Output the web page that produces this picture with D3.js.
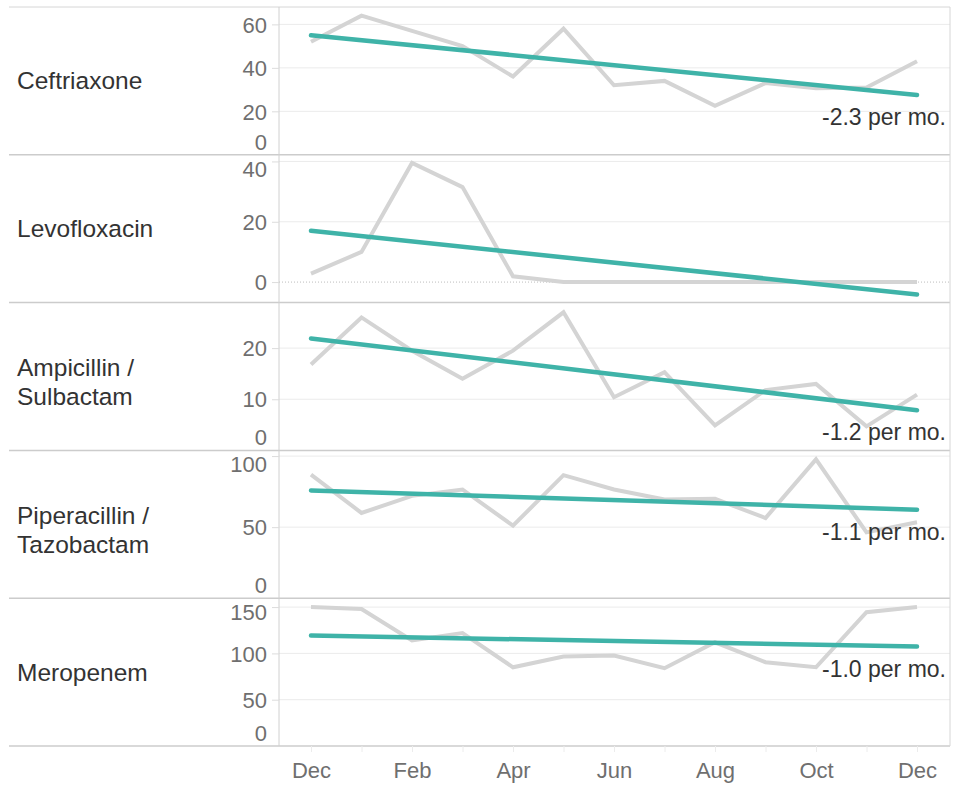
<!DOCTYPE html>
<html lang="en">
<head>
  <meta charset="UTF-8" />
  <title>Antibiotic use trends</title>
  <style>
    body {
      margin: 0;
      background: #ffffff;
      font-family: Helvetica, Arial, "Liberation Sans", sans-serif;
    }
    .rowlabel { fill: #333; font-size: 24.5px; }
    .tick text { fill: #6f6f6f; font-size: 22px; font-family: Helvetica, Arial, "Liberation Sans", sans-serif; }
    .slope { fill: #333; font-size: 23px; }
  </style>
  <script src="https://d3js.org/d3.v7.min.js"></script>
</head>
<body>
  <svg id="chart" width="954" height="785"></svg>

  <script>
    // months on the x axis (Dec to Dec)
    const months = ["Dec", "Jan", "Feb", "Mar", "Apr", "May", "Jun", "Jul", "Aug", "Sep", "Oct", "Nov", "Dec"];
    const drugs = ["Ceftriaxone", "Levofloxacin", "Ampicillin / Sulbactam", "Piperacillin / Tazobactam", "Meropenem"];

    const ceftriaxone  = [52, 64, 57, 50, 36, 58, 32, 34, 22.5, 33, 30.6, 31, 43];
    const levofloxacin = [2.8, 10, 39.5, 31.5, 1.9, 0, 0, 0, 0, 0, 0, 0, 0];
    const ampicillin   = [16.8, 26, 19.5, 14, 19.5, 27, 10.4, 15.3, 4.9, 11.8, 13, 4.7, 10.9];
    const piperacillin = [87, 60, 72, 76.5, 51, 86.6, 76.5, 69.4, 69.9, 56.4, 97.7, 46.3, 53.4];
    const meropenem    = [150, 148, 114, 122, 85, 96.6, 97.7, 84, 112, 90.5, 85, 144.5, 150];
    const series = [ceftriaxone, levofloxacin, ampicillin, piperacillin, meropenem];

    // trend line values at first and last month
    const trendStart = [55, 17, 21.9, 75.8, 119.3];
    const trendEnd   = [27.5, -4.1, 7.85, 62.3, 107.4];
    const slopeLabels = ["-2.3 per mo.", null, "-1.2 per mo.", "-1.1 per mo.", "-1.0 per mo."];

    const yDomains = [[0, 68], [-6.8, 42.2], [0, 28.9], [0, 104], [0, 159.6]];
    const yTicks = [[0, 20, 40, 60], [0, 20, 40], [0, 10, 20], [0, 50, 100], [0, 50, 100, 150]];

    const svg = d3.select("#chart");
    const frameLeft = 9, axisX = 279, frameRight = 950;
    const frameTop = 7, frameBottom = 746;
    const rowH = (frameBottom - frameTop) / drugs.length;

    const x = d3.scaleLinear().domain([0, 12]).range([311, 917]);

    const gridG = svg.append("g");
    const frameG = svg.append("g");
    const markG = svg.append("g");

    drugs.forEach((name, r) => {
      const y0 = frameTop + r * rowH;
      const y1 = y0 + rowH;
      const y = d3.scaleLinear().domain(yDomains[r]).range([y1, y0]);

      // gridlines
      yTicks[r].forEach(v => {
        const yy = y(v);
        if (yy > y1 - 2 || yy < y0 + 2) return;
        gridG.append("line")
          .attr("x1", axisX).attr("x2", frameRight)
          .attr("y1", yy).attr("y2", yy)
          .attr("stroke", v === 0 ? "#bdbdbd" : "#ebebeb")
          .attr("stroke-width", 1)
          .attr("stroke-dasharray", v === 0 ? "1,2" : null);
      });

      // y axis
      const ax = svg.append("g")
        .attr("transform", `translate(${axisX},0)`)
        .call(d3.axisLeft(y).tickValues(yTicks[r]).tickSize(7).tickPadding(5));
      ax.select(".domain").remove();
      ax.selectAll(".tick line")
        .attr("stroke", "#dcdcdc")
        .attr("display", d => (y(d) > y1 - 2 || y(d) < y0 + 2) ? "none" : null);
      ax.selectAll(".tick text")
        .attr("dy", "0.35em")
        .attr("y", d => {
          const yy = y(d);
          const c = Math.max(y0 + 13.5, Math.min(y1 - 13.5, yy));
          return c - yy;
        });

      // row label
      const lines = name.includes(" / ") ? [name.split(" / ")[0] + " /", name.split(" / ")[1]] : [name];
      const mid = (y0 + y1) / 2;
      const lbl = svg.append("text").attr("class", "rowlabel").attr("x", 17);
      if (lines.length === 1) {
        lbl.append("tspan").attr("x", 17).attr("y", mid).attr("dy", "0.35em").text(lines[0]);
      } else {
        lbl.append("tspan").attr("x", 17).attr("y", mid - 9).attr("dy", "0.35em").text(lines[0]);
        lbl.append("tspan").attr("x", 17).attr("y", mid + 20).attr("dy", "0.35em").text(lines[1]);
      }

      // data line
      markG.append("path")
        .datum(series[r])
        .attr("fill", "none")
        .attr("stroke", "#d4d4d4")
        .attr("stroke-width", 4)
        .attr("d", d3.line().x((d, i) => x(i)).y(d => y(d)));

      // trend line
      const trend = [[0, trendStart[r]], [12, trendEnd[r]]];
      markG.append("path")
        .datum(trend)
        .attr("fill", "none")
        .attr("stroke", "#3fb3a8")
        .attr("stroke-width", 4.5)
        .attr("stroke-linecap", "round")
        .attr("d", d3.line().x(d => x(d[0])).y(d => y(d[1])));

      if (slopeLabels[r]) {
        markG.append("text")
          .attr("class", "slope")
          .attr("x", 946)
          .attr("y", y(trendEnd[r]) + 22)
          .attr("dy", "0.35em")
          .attr("text-anchor", "end")
          .text(slopeLabels[r]);
      }

      // row separator
      frameG.append("line")
        .attr("x1", frameLeft).attr("x2", frameRight)
        .attr("y1", y0).attr("y2", y0)
        .attr("stroke", r === 0 ? "#d6d6d6" : "#cccccc")
        .attr("stroke-width", r === 0 ? 1 : 1.5);
    });

    // bottom border and vertical frame lines
    frameG.append("line")
      .attr("x1", frameLeft).attr("x2", frameRight)
      .attr("y1", frameBottom).attr("y2", frameBottom)
      .attr("stroke", "#cccccc").attr("stroke-width", 1.5);
    frameG.append("line")
      .attr("x1", axisX).attr("x2", axisX)
      .attr("y1", frameTop).attr("y2", frameBottom)
      .attr("stroke", "#d0d0d0").attr("stroke-width", 1);
    frameG.append("line")
      .attr("x1", frameRight).attr("x2", frameRight)
      .attr("y1", frameTop).attr("y2", frameBottom)
      .attr("stroke", "#d6d6d6").attr("stroke-width", 1);

    // x axis
    const xa = svg.append("g")
      .attr("transform", `translate(0,${frameBottom})`)
      .call(d3.axisBottom(x)
        .tickValues(d3.range(13))
        .tickSize(6)
        .tickPadding(10)
        .tickFormat(i => i % 2 === 0 ? months[i] : ""));
    xa.select(".domain").remove();
    xa.selectAll(".tick line").attr("stroke", "#ececec");
  </script>
</body>
</html>
